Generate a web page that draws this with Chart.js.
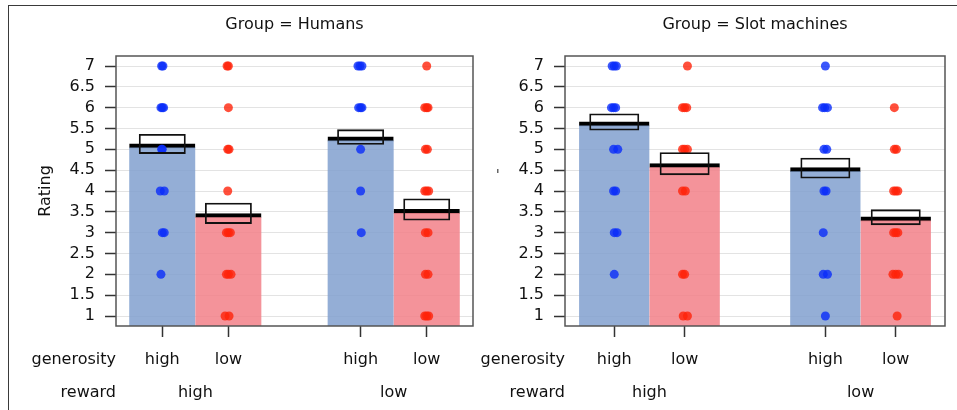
<!DOCTYPE html>
<html>
<head>
<meta charset="utf-8">
<script src="https://cdn.jsdelivr.net/npm/chart.js@4.4.0/dist/chart.umd.min.js"></script>
<style>
  html, body { margin: 0; padding: 0; background: #fff; }
  #wrap { position: relative; width: 957px; height: 410px; overflow: hidden; }
  #frame { position: absolute; left: 8px; top: 5px; width: 960px; height: 420px;
           border-left: 1.5px solid #3a3a3a; border-top: 1.5px solid #3a3a3a; }
  canvas { position: absolute; top: 0; }
</style>
</head>
<body>
<div id="wrap">
  <div id="frame"></div>
  <canvas id="humans" width="478" height="410" style="left:0"></canvas>
  <canvas id="slots" width="479" height="410" style="left:478px"></canvas>
</div>
<script>
// positions des barres (generosity high/low dans reward high puis reward low)
const positions = [1, 2, 4, 5];
const generosityLabels = ['high', 'low', 'high', 'low'];
const rewardLabels = ['high', 'low'];
const rewardPositions = [1.5, 4.5];
const yTicks = [1, 1.5, 2, 2.5, 3, 3.5, 4, 4.5, 5, 5.5, 6, 6.5, 7];
const yMin = 0.76, yMax = 7.24;

// Humans
const humansMeans = [5.13, 3.46, 5.30, 3.56];
const humansCILow = [4.89, 3.21, 5.11, 3.29];
const humansCIHigh = [5.37, 3.72, 5.48, 3.82];
const humansBlueDots = [
  [0.99, 7], [1.01, 7], [0.98, 6], [1.02, 6], [1.0, 6], [0.99, 5], [1.0, 5],
  [0.97, 4], [1.03, 4], [1.0, 3], [1.03, 3], [0.98, 2],
  [3.96, 7], [3.99, 7], [4.02, 7], [3.97, 6], [4.0, 6], [4.02, 6], [4.0, 5], [4.0, 4], [4.01, 3]
];
const humansRedDots = [
  [1.98, 7], [2.0, 7], [2.0, 6], [1.99, 5], [2.01, 5], [1.99, 4], [1.97, 3], [2.0, 3], [2.03, 3],
  [1.97, 2], [2.0, 2], [2.04, 2], [1.95, 1], [2.01, 1],
  [5.0, 7], [4.97, 6], [5.0, 6], [5.02, 6], [4.98, 5], [5.01, 5], [4.97, 4], [5.0, 4], [5.03, 4],
  [4.98, 3], [5.02, 3], [4.98, 2], [5.02, 2], [4.97, 1], [5.0, 1], [5.03, 1]
];

// Slot machines
const slotMeans = [5.66, 4.66, 4.56, 3.38];
const slotCILow = [5.45, 4.38, 4.30, 3.18];
const slotCIHigh = [5.86, 4.93, 4.80, 3.56];
const slotBlueDots = [
  [0.97, 7], [1.0, 7], [1.03, 7], [0.96, 6], [0.99, 6], [1.02, 6], [0.99, 5], [1.05, 5],
  [0.99, 4], [1.02, 4], [1.0, 3], [1.04, 3], [1.0, 2],
  [4.0, 7], [3.96, 6], [3.99, 6], [4.03, 6], [3.98, 5], [4.02, 5], [3.98, 4], [4.01, 4],
  [3.97, 3], [3.97, 2], [4.03, 2], [4.0, 1]
];
const slotRedDots = [
  [2.04, 7], [1.97, 6], [2.0, 6], [2.03, 6], [1.97, 5], [2.0, 5], [2.04, 5], [1.97, 4], [2.01, 4],
  [1.97, 2], [2.0, 2], [1.98, 1], [2.04, 1],
  [4.98, 6], [4.98, 5], [5.01, 5], [4.97, 4], [5.0, 4], [5.03, 4], [4.97, 3], [5.0, 3], [5.03, 3],
  [4.96, 2], [5.0, 2], [5.04, 2], [5.02, 1]
];

const barColors = ['rgba(129,160,207,0.85)', 'rgba(242,128,136,0.85)', 'rgba(129,160,207,0.85)', 'rgba(242,128,136,0.85)'];

Chart.defaults.font.family = '"DejaVu Sans", sans-serif';
Chart.defaults.font.size = 16;
Chart.defaults.color = '#111';

// titre, cadre, libellés des lignes generosity / reward
const panelDecor = {
  id: 'panelDecor',
  afterDraw(chart, args, opts) {
    const { ctx, chartArea: a, scales: { x } } = chart;
    ctx.save();
    ctx.strokeStyle = '#555';
    ctx.lineWidth = 1.5;
    ctx.strokeRect(a.left, a.top, a.right - a.left, a.bottom - a.top);
    ctx.fillStyle = '#111';
    ctx.font = '16px "DejaVu Sans"';
    ctx.textBaseline = 'alphabetic';
    ctx.textAlign = 'center';
    ctx.fillText(opts.title, (a.left + a.right) / 2, 29);
    ctx.textAlign = 'right';
    ctx.fillText('generosity', a.left, 364);
    ctx.fillText('reward', a.left, 397);
    ctx.textAlign = 'center';
    rewardLabels.forEach((l, i) => ctx.fillText(l, x.getPixelForValue(rewardPositions[i]), 397));
    if (opts.yTitle) {
      ctx.translate(a.left - 66, (a.top + a.bottom) / 2);
      ctx.rotate(-Math.PI / 2);
      ctx.fillText(opts.yTitle, 0, 0);
    } else {
      ctx.fillStyle = '#666';
      ctx.fillRect(a.left - 68, 169, 1.5, 4);
    }
    ctx.restore();
  }
};

function makePanel(id, title, yTitle, means, ciLow, ciHigh, blueDots, redDots, padRight, yWidth) {
  return new Chart(document.getElementById(id), {
    type: 'bar',
    data: {
      datasets: [
        {
          type: 'bar',
          data: ciLow.map((v, i) => ({ x: positions[i], y: [v, ciHigh[i]] })),
          backgroundColor: 'rgba(0,0,0,0)',
          borderColor: '#111',
          borderWidth: 1.8,
          borderSkipped: false,
          grouped: false,
          barPercentage: 0.71,
          categoryPercentage: 1,
          order: 0
        },
        {
          type: 'scatter',
          data: blueDots.map(d => ({ x: d[0], y: d[1] })),
          backgroundColor: 'rgba(10,45,250,0.8)',
          borderWidth: 0,
          pointRadius: 4.5,
          order: 1
        },
        {
          type: 'scatter',
          data: redDots.map(d => ({ x: d[0], y: d[1] })),
          backgroundColor: 'rgba(255,35,10,0.8)',
          borderWidth: 0,
          pointRadius: 4.5,
          order: 1
        },
        {
          type: 'bar',
          data: means.map((v, i) => ({ x: positions[i], y: v })),
          backgroundColor: barColors,
          borderColor: '#000',
          borderWidth: { top: 4, left: 0, right: 0, bottom: 0 },
          base: yMin,
          grouped: false,
          barPercentage: 1,
          categoryPercentage: 1,
          order: 2
        }
      ]
    },
    options: {
      responsive: false,
      animation: false,
      layout: { padding: { top: 56, right: padRight, bottom: 0, left: 0 } },
      plugins: {
        legend: { display: false },
        tooltip: { enabled: false },
        panelDecor: { title: title, yTitle: yTitle }
      },
      scales: {
        x: {
          type: 'linear',
          min: 0.3,
          max: 5.7,
          offset: false,
          afterBuildTicks: s => { s.ticks = positions.map(v => ({ value: v })); },
          afterFit: s => { s.height = 84; },
          ticks: {
            autoSkip: false,
            maxRotation: 0,
            padding: 13,
            callback: (v) => generosityLabels[positions.indexOf(v)]
          },
          grid: { offset: false, drawOnChartArea: false, tickLength: 11, tickColor: '#333', tickWidth: 1.5 },
          border: { display: false }
        },
        y: {
          type: 'linear',
          min: yMin,
          max: yMax,
          afterBuildTicks: s => { s.ticks = yTicks.map(v => ({ value: v })); },
          afterFit: s => { s.width = yWidth; },
          ticks: { padding: 10, callback: v => String(v) },
          grid: { color: '#e3e3e3', lineWidth: 1, tickLength: 11, tickColor: '#333', tickWidth: 1.5 },
          border: { display: false }
        }
      }
    },
    plugins: [panelDecor]
  });
}

makePanel('humans', 'Group = Humans', 'Rating', humansMeans, humansCILow, humansCIHigh,
  humansBlueDots, humansRedDots, 5, 116);
makePanel('slots', 'Group = Slot machines', null, slotMeans, slotCILow, slotCIHigh,
  slotBlueDots, slotRedDots, 12, 87);
</script>
</body>
</html>
